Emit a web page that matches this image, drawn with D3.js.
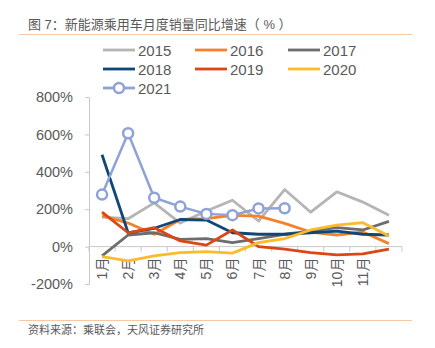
<!DOCTYPE html>
<html>
<head>
<meta charset="utf-8">
<script src="https://cdn.jsdelivr.net/npm/d3@7"></script>
<style>
  body { margin: 0; background: #fff; }
  svg { font-family: "Liberation Sans", "Noto Sans CJK SC", sans-serif; }
</style>
</head>
<body>
<div id="root"></div>
<script>
const months = ['1月', '2月', '3月', '4月', '5月', '6月', '7月', '8月', '9月', '10月', '11月', '']
const yTicks = [-200, 0, 200, 400, 600, 800]

const years = ['2015', '2016', '2017', '2018', '2019', '2020', '2021']
const colors = ['#b5b5b5', '#f5812a', '#6d6d6d', '#0d4878', '#dc4514', '#fbbb2a', '#8fa2d8']

const v2015 = [158, 149, 234, 126, 190, 248, 137, 305, 184, 293, 238, 167]
const v2016 = [165, 126, 66, 145, 150, 167, 163, 124, 78, 62, 78, 16]
const v2017 = [-50, 62, 74, 39, 43, 21, 43, 66, 83, 101, 89, 135]
const v2018 = [491, 74, 98, 145, 142, 74, 66, 66, 74, 83, 66, 62]
const v2019 = [184, 74, 101, 30, 8, 89, 0, -14, -32, -44, -39, -14]
const v2020 = [-53, -76, -50, -32, -27, -35, 21, 43, 89, 115, 128, 57]
const v2021 = [278, 606, 261, 214, 175, 168, 204, 205]

const series = [v2015, v2016, v2017, v2018, v2019, v2020, v2021]

const width = 435
const height = 348
const plotLeft = 89
const plotRight = 402
const plotTop = 97
const plotBottom = 284

const svg = d3.select('#root').append('svg')
  .attr('width', width)
  .attr('height', height)

// title + rules
svg.append('text')
  .attr('x', 28).attr('y', 29)
  .attr('font-size', 13).attr('fill', '#595959')
  .attr('xml:space', 'preserve')
  .text('图 7：新能源乘用车月度销量同比增速（ % ）')

svg.append('line')
  .attr('x1', 19).attr('x2', 412).attr('y1', 34.5).attr('y2', 34.5)
  .attr('stroke', '#f9c8a0').attr('stroke-width', 1.2)

svg.append('line')
  .attr('x1', 19).attr('x2', 412).attr('y1', 320.5).attr('y2', 320.5)
  .attr('stroke', '#f9c8a0').attr('stroke-width', 1.2)

svg.append('text')
  .attr('x', 28).attr('y', 334)
  .attr('font-size', 11).attr('fill', '#595959')
  .text('资料来源：乘联会，天风证券研究所')

const x = d3.scaleBand().domain(months.map((m, i) => i)).range([plotLeft, plotRight])
const y = d3.scaleLinear().domain([-200, 800]).range([plotBottom, plotTop])

// y axis
const yAxis = svg.append('g')
  .attr('transform', 'translate(' + plotLeft + ',0)')
  .call(d3.axisLeft(y).tickValues(yTicks).tickSize(4).tickPadding(12).tickFormat(d => d + '%'))
yAxis.select('.domain').attr('stroke', '#c8c8c8')
yAxis.selectAll('.tick line').attr('stroke', '#c8c8c8')
yAxis.selectAll('text').attr('font-size', 14.5).attr('fill', '#595959').attr('font-family', 'Liberation Sans')

// x axis sits at 0%
const xAxis = svg.append('g')
  .attr('transform', 'translate(0,' + y(0) + ')')
xAxis.append('line')
  .attr('x1', plotLeft).attr('x2', plotRight)
  .attr('stroke', '#c8c8c8')
xAxis.selectAll('.tk')
  .data(d3.range(months.length + 1))
  .enter().append('line')
  .attr('class', 'tk')
  .attr('x1', i => plotLeft + i * x.step()).attr('x2', i => plotLeft + i * x.step())
  .attr('y1', 0).attr('y2', 5)
  .attr('stroke', '#c8c8c8')
xAxis.selectAll('.lbl')
  .data(months)
  .enter().append('text')
  .attr('class', 'lbl')
  .attr('transform', (d, i) => 'translate(' + (x(i) + x.bandwidth() / 2 + 5) + ',11) rotate(-90)')
  .attr('text-anchor', 'end')
  .attr('font-size', 14).attr('fill', '#595959')
  .text(d => d)

const line = d3.line()
  .x((d, i) => x(i) + x.bandwidth() / 2)
  .y(d => y(d))

series.forEach((vals, k) => {
  svg.append('path')
    .datum(vals)
    .attr('d', line)
    .attr('fill', 'none')
    .attr('stroke', colors[k])
    .attr('stroke-width', k === 6 ? 2.5 : 2.8)
    .attr('stroke-linejoin', 'round')
})

svg.append('g').selectAll('circle')
  .data(v2021)
  .enter().append('circle')
  .attr('cx', (d, i) => x(i) + x.bandwidth() / 2)
  .attr('cy', d => y(d))
  .attr('r', 5)
  .attr('fill', '#fff')
  .attr('stroke', colors[6])
  .attr('stroke-width', 2.5)

// legend
const legend = svg.append('g')
const cols = [103, 195, 288]
years.forEach((yr, k) => {
  const lx = cols[k % 3]
  const ly = 50 + Math.floor(k / 3) * 19
  legend.append('line')
    .attr('x1', lx).attr('x2', lx + 32).attr('y1', ly).attr('y2', ly)
    .attr('stroke', colors[k]).attr('stroke-width', 2.8)
  if (k === 6) {
    legend.append('circle')
      .attr('cx', lx + 16).attr('cy', ly).attr('r', 5)
      .attr('fill', '#fff').attr('stroke', colors[k]).attr('stroke-width', 2.5)
  }
  legend.append('text')
    .attr('x', lx + 35).attr('y', ly + 5.5)
    .attr('font-size', 15).attr('fill', '#595959')
    .text(yr)
})
</script>
</body>
</html>
